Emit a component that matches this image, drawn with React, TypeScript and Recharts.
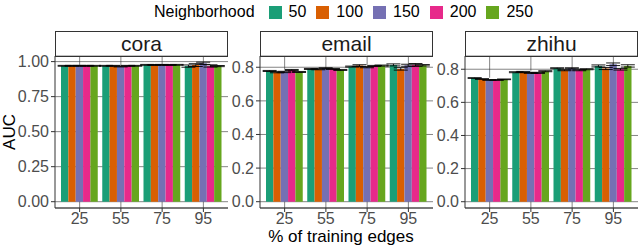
import React from 'react';
import {BarChart, Bar, XAxis, YAxis, CartesianGrid, ErrorBar, ReferenceLine} from 'recharts';

const pcts = ['25', '55', '75', '95'];
const neighborhoods = ['50', '100', '150', '200', '250'];
const colors = ['#1B9E77', '#D95F02', '#7570B3', '#E7298A', '#66A61E'];

// rows = % of training edges, columns = neighborhood size
const coraAuc = [
    [0.970, 0.970, 0.970, 0.970, 0.970],
    [0.970, 0.970, 0.965, 0.970, 0.970],
    [0.977, 0.976, 0.977, 0.976, 0.977],
    [0.968, 0.975, 0.988, 0.969, 0.968],
];
const coraErr = [
    [0.003, 0.003, 0.003, 0.003, 0.003],
    [0.003, 0.003, 0.003, 0.003, 0.003],
    [0.003, 0.003, 0.003, 0.003, 0.003],
    [0.008, 0.010, 0.008, 0.008, 0.004],
];
const emailAuc = [
    [0.778, 0.770, 0.772, 0.784, 0.772],
    [0.790, 0.788, 0.794, 0.790, 0.784],
    [0.804, 0.810, 0.800, 0.808, 0.810],
    [0.814, 0.790, 0.812, 0.814, 0.812],
];
const emailErr = [
    [0.003, 0.003, 0.004, 0.003, 0.003],
    [0.003, 0.003, 0.003, 0.003, 0.003],
    [0.003, 0.005, 0.003, 0.003, 0.003],
    [0.006, 0.007, 0.006, 0.008, 0.004],
];
const zhihuAuc = [
    [0.747, 0.741, 0.735, 0.735, 0.739],
    [0.782, 0.784, 0.778, 0.778, 0.788],
    [0.806, 0.794, 0.806, 0.794, 0.800],
    [0.820, 0.804, 0.830, 0.800, 0.820],
];
const zhihuErr = [
    [0.002, 0.002, 0.002, 0.002, 0.002],
    [0.003, 0.003, 0.003, 0.003, 0.003],
    [0.003, 0.003, 0.003, 0.003, 0.003],
    [0.006, 0.006, 0.008, 0.005, 0.007],
];

const panels = [
    {name: 'cora', auc: coraAuc, err: coraErr, domain: [-0.045, 1.04], ticks: [0, 0.25, 0.5, 0.75, 1], digits: 2, left: 0},
    {name: 'email', auc: emailAuc, err: emailErr, domain: [-0.0375, 0.867], ticks: [0, 0.2, 0.4, 0.6, 0.8], digits: 1, left: 205},
    {name: 'zhihu', auc: zhihuAuc, err: zhihuErr, domain: [-0.038, 0.88], ticks: [0, 0.2, 0.4, 0.6, 0.8], digits: 1, left: 410},
];

const AXIS_W = 55;
const PANEL_W = 173;
const dark = '#333333';
const tickStyle = {fill: '#4D4D4D', fontSize: 16};

const toRows = (auc: number[][], err: number[][]) =>
    pcts.map((pct, i) => {
        const row: { [key: string]: any } = {pct};
        neighborhoods.forEach((n, j) => {
            row['n' + n] = auc[i][j];
            row['e' + n] = err[i][j];
        });
        return row;
    });

const Panel = ({p}: { p: typeof panels[number] }) => (
    <>
        <div style={{
            position: 'absolute', left: p.left + AXIS_W, top: 31, width: PANEL_W, height: 26,
            boxSizing: 'border-box', border: `1px solid ${dark}`, background: '#fff',
            fontSize: 21, color: '#1A1A1A', display: 'flex', alignItems: 'center', justifyContent: 'center',
        }}>{p.name}</div>
        <div style={{position: 'absolute', left: p.left, top: 0}}>
            <BarChart width={AXIS_W + PANEL_W} height={246} data={toRows(p.auc, p.err)}
                      margin={{top: 56, right: 0, bottom: 0, left: 0}} barGap={0}>
                <CartesianGrid stroke={dark} strokeWidth={0.6} vertical={false}/>
                <XAxis dataKey="pct" height={38} interval={0} tickSize={4} tickMargin={1}
                       padding={{left: 4, right: 4}} tick={tickStyle} stroke={dark}/>
                <YAxis type="number" width={AXIS_W} domain={p.domain} ticks={p.ticks} allowDataOverflow
                       interval={0} tickSize={4} tick={tickStyle} stroke={dark}
                       tickFormatter={(v: number) => v.toFixed(p.digits)}/>
                {/* vertical grid: only the parts not hidden behind the bars */}
                {pcts.map((c, i) => {
                    const groupTop = Math.max(...p.auc[i].map((v, j) => v + p.err[i][j]));
                    return (
                        <ReferenceLine key={c} stroke={dark} strokeWidth={0.6}
                                       segment={[{x: c, y: groupTop}, {x: c, y: p.domain[1]}]}/>
                    );
                })}
                {pcts.map(c => (
                    <ReferenceLine key={'b' + c} stroke={dark} strokeWidth={0.6}
                                   segment={[{x: c, y: p.domain[0]}, {x: c, y: 0}]}/>
                ))}
                {neighborhoods.map((n, j) => (
                    <Bar key={n} dataKey={'n' + n} fill={colors[j]} barSize={7.35} isAnimationActive={false}>
                        <ErrorBar dataKey={'e' + n} width={7} stroke="#000" strokeWidth={0.9} direction="y"/>
                    </Bar>
                ))}
            </BarChart>
        </div>
    </>
);

export default function App() {
    return (
        <div style={{
            position: 'absolute', left: 0, top: 0, width: 640, height: 246, background: '#fff',
            fontFamily: '"Liberation Sans", Arial, sans-serif', overflow: 'hidden',
        }}>
            <div style={{
                position: 'absolute', left: 154, top: 3, height: 18, display: 'flex', alignItems: 'center',
                fontSize: 16, color: '#000', whiteSpace: 'nowrap',
            }}>
                <span style={{marginRight: 14}}>Neighborhood</span>
                {neighborhoods.map((n, j) => (
                    <span key={n} style={{display: 'flex', alignItems: 'center', marginRight: 10}}>
                        <span style={{width: 13, height: 13, background: colors[j], marginRight: 7}}/>
                        <span>{n}</span>
                    </span>
                ))}
            </div>
            {panels.map(p => <Panel key={p.name} p={p}/>)}
            <div style={{
                position: 'absolute', left: -20, top: 122, width: 60, height: 20, lineHeight: '20px',
                textAlign: 'center', fontSize: 17, color: '#000', transform: 'rotate(-90deg)',
            }}>AUC
            </div>
            <div style={{
                position: 'absolute', left: 241, top: 229, width: 200, lineHeight: '16px',
                textAlign: 'center', fontSize: 17, color: '#000',
            }}>% of training edges
            </div>
        </div>
    );
}
